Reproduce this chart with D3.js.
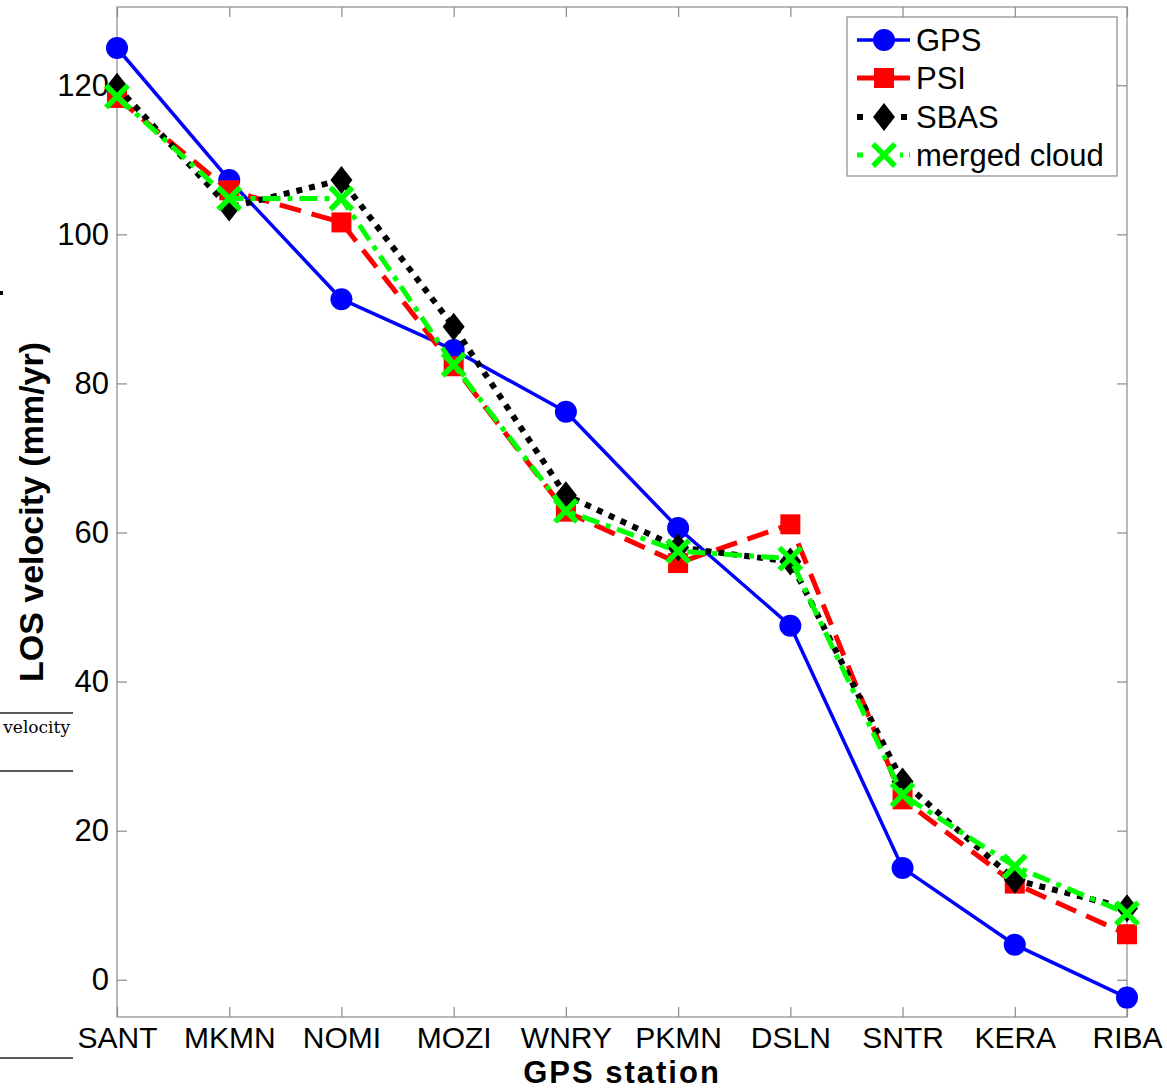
<!DOCTYPE html>
<html>
<head>
<meta charset="utf-8">
<script src="https://cdn.jsdelivr.net/npm/d3@7"></script>
<style>
  html, body { margin: 0; padding: 0; background: #fff; }
  svg { display: block; }
  text { font-family: "Liberation Sans", Arial, Helvetica, sans-serif; fill: #000; }
</style>
</head>
<body>
<svg id="chart" width="1167" height="1090"></svg>
<script>
// GPS stations along the profile
const stations = ["SANT", "MKMN", "NOMI", "MOZI", "WNRY", "PKMN", "DSLN", "SNTR", "KERA", "RIBA"];

// LOS velocities (mm/yr) per technique
const gpsValues    = [125.0, 107.3, 91.3, 84.5, 76.2, 60.6, 47.5, 15.0, 4.7, -2.4];
const psiValues    = [118.3, 105.9, 101.6, 82.3, 62.8, 55.9, 61.1, 24.2, 12.9, 6.1];
const sbasValues   = [119.8, 103.6, 107.3, 87.6, 65.0, 58.0, 56.1, 26.6, 13.4, 9.6];
const mergedValues = [118.5, 104.8, 104.8, 82.5, 62.9, 57.5, 56.5, 24.8, 15.2, 8.9];

const seriesNames = ["GPS", "PSI", "SBAS", "merged cloud"];
const yTicks = [0, 20, 40, 60, 80, 100, 120];
const yDomain = [-5, 130.5];

const svg = d3.select("#chart");
const plotL = 117, plotR = 1127, plotT = 7, plotB = 1017;

const x = d3.scalePoint().domain(stations).range([plotL, plotR]);
const y = d3.scaleLinear().domain(yDomain).range([plotB, plotT]);

const axisColor = "#8a8a8a";

// Plot frame
svg.append("rect")
  .attr("x", plotL).attr("y", plotT)
  .attr("width", plotR - plotL).attr("height", plotB - plotT)
  .attr("fill", "none").attr("stroke", axisColor).attr("stroke-width", 1.2);

// Axes with inward ticks on all four sides
const tickLen = 10;
const styleAxis = g => {
  g.select(".domain").remove();
  g.selectAll(".tick line").attr("stroke", axisColor).attr("stroke-width", 1.2);
};

svg.append("g").attr("transform", `translate(0,${plotB})`)
  .call(d3.axisBottom(x).tickSizeInner(-tickLen).tickSizeOuter(0).tickPadding(10))
  .call(styleAxis)
  .call(g => g.selectAll(".tick text")
    .style("font-family", "'Liberation Sans', Arial, sans-serif")
    .attr("font-size", 30).attr("fill", "#000"));

svg.append("g").attr("transform", `translate(0,${plotT})`)
  .call(d3.axisTop(x).tickSizeInner(-tickLen).tickSizeOuter(0).tickFormat(""))
  .call(styleAxis);

svg.append("g").attr("transform", `translate(${plotL},0)`)
  .call(d3.axisLeft(y).tickValues(yTicks).tickSizeInner(-tickLen).tickSizeOuter(0).tickPadding(8))
  .call(styleAxis)
  .call(g => g.selectAll(".tick text")
    .style("font-family", "'Liberation Sans', Arial, sans-serif")
    .attr("font-size", 31).attr("fill", "#000"));

svg.append("g").attr("transform", `translate(${plotR},0)`)
  .call(d3.axisRight(y).tickValues(yTicks).tickSizeInner(-tickLen).tickSizeOuter(0).tickFormat(""))
  .call(styleAxis);

// Axis titles
svg.append("text")
  .attr("x", (plotL + plotR) / 2).attr("y", 1083)
  .attr("text-anchor", "middle")
  .attr("font-size", 31).attr("font-weight", "bold")
  .attr("letter-spacing", 2)
  .text("GPS station");

svg.append("text")
  .attr("transform", `translate(43,${(plotT + plotB) / 2}) rotate(-90)`)
  .attr("text-anchor", "middle")
  .attr("font-size", 34).attr("font-weight", "bold")
  .text("LOS velocity (mm/yr)");

// Series definitions
const series = [
  { name: "GPS", values: gpsValues, color: "#0000ff", width: 3.5, dash: null, marker: "circle" },
  { name: "PSI", values: psiValues, color: "#ff0000", width: 5, dash: "22,11", marker: "square" },
  { name: "SBAS", values: sbasValues, color: "#000000", width: 6, dash: "6,7", marker: "diamond" },
  { name: "merged cloud", values: mergedValues, color: "#00ff00", width: 5, dash: "18,7,5,7", marker: "x" }
];

const line = d3.line().x(d => x(d.s)).y(d => y(d.v));

function drawMarker(g, kind, cx, cy, color) {
  if (kind === "circle") {
    g.append("circle").attr("cx", cx).attr("cy", cy).attr("r", 11).attr("fill", color);
  } else if (kind === "square") {
    g.append("rect").attr("x", cx - 10).attr("y", cy - 10).attr("width", 20).attr("height", 20).attr("fill", color);
  } else if (kind === "diamond") {
    g.append("path")
      .attr("d", `M${cx},${cy - 14}L${cx + 11},${cy}L${cx},${cy + 14}L${cx - 11},${cy}Z`)
      .attr("fill", color);
  } else if (kind === "x") {
    const r = 11;
    g.append("path")
      .attr("d", `M${cx - r},${cy - r}L${cx + r},${cy + r}M${cx - r},${cy + r}L${cx + r},${cy - r}`)
      .attr("stroke", color).attr("stroke-width", 5.5).attr("fill", "none");
  }
}

series.forEach(s => {
  const pts = stations.map((st, i) => ({ s: st, v: s.values[i] }));
  const g = svg.append("g").attr("class", "series");
  g.append("path")
    .datum(pts)
    .attr("d", line)
    .attr("fill", "none")
    .attr("stroke", s.color)
    .attr("stroke-width", s.width)
    .attr("stroke-dasharray", s.dash)
    .attr("stroke-linejoin", "round");
  pts.forEach(p => drawMarker(g, s.marker, x(p.s), y(p.v), s.color));
});

// Legend
const legX = 847, legY = 17, legW = 270, legH = 159;
const legend = svg.append("g");
legend.append("rect")
  .attr("x", legX).attr("y", legY).attr("width", legW).attr("height", legH)
  .attr("fill", "#fff").attr("stroke", axisColor).attr("stroke-width", 1.2);

const legendRows = [40, 78, 117, 155];
const legendDash = [null, null, "6,38,6", "6,37,3"];
series.forEach((s, i) => {
  const ly = legendRows[i];
  legend.append("line")
    .attr("x1", 857).attr("x2", 910).attr("y1", ly).attr("y2", ly)
    .attr("stroke", s.color).attr("stroke-width", s.width)
    .attr("stroke-dasharray", legendDash[i]);
  drawMarker(legend, s.marker, 884, ly, s.color);
  legend.append("text")
    .attr("x", 916).attr("y", ly + 11)
    .attr("font-size", 31)
    .text(seriesNames[i]);
});

// Fragments of the neighbouring page layout at the left edge
const edge = svg.append("g");
edge.append("rect").attr("x", 0).attr("y", 291).attr("width", 3).attr("height", 4).attr("fill", "#000");
edge.append("line").attr("x1", 0).attr("x2", 73).attr("y1", 713).attr("y2", 713).attr("stroke", "#222").attr("stroke-width", 1.3);
edge.append("line").attr("x1", 0).attr("x2", 73).attr("y1", 771).attr("y2", 771).attr("stroke", "#222").attr("stroke-width", 1.3);
edge.append("line").attr("x1", 0).attr("x2", 73).attr("y1", 1058).attr("y2", 1058).attr("stroke", "#222").attr("stroke-width", 1.3);
edge.append("text")
  .attr("x", 70).attr("y", 733)
  .attr("text-anchor", "end")
  .style("font-family", "'DejaVu Serif', 'Liberation Serif', serif")
  .attr("font-size", 17).attr("fill", "#333")
  .text("velocity");
</script>
</body>
</html>
